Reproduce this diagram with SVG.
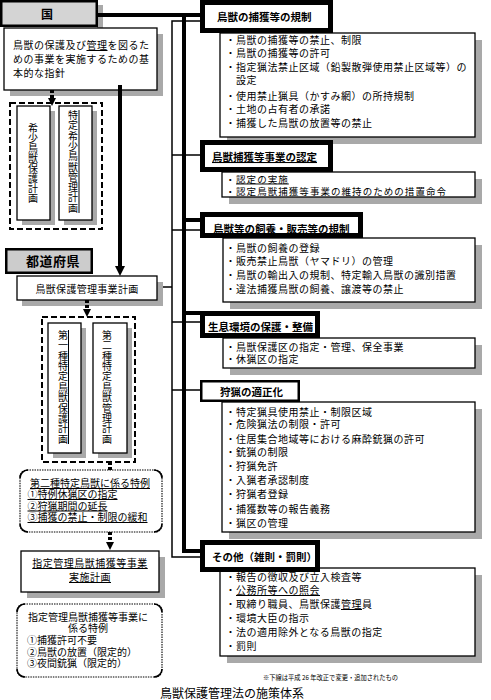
<svg xmlns="http://www.w3.org/2000/svg" width="491" height="700" viewBox="0 0 491 700">
<defs>
<style>
.t{font-family:"Noto Sans CJK JP","Noto Sans CJK SC",sans-serif;font-size:10px;letter-spacing:0.5px;fill:#000}
.h{font-size:10.5px;letter-spacing:0;font-weight:bold}
.b{font-weight:bold}
.u{text-decoration:underline}
.box{fill:#fff;stroke:#000;stroke-width:1.3}
.sh{fill:#a9a9a9}
.hdr{fill:#fff;stroke:#000;stroke-width:5}
.thin{fill:none;stroke:#000;stroke-width:1.5}
.thick{fill:none;stroke:#000;stroke-width:4}
.dots{fill:none;stroke:#000;stroke-width:4;stroke-dasharray:3 2}
.dash{fill:none;stroke:#000;stroke-width:2;stroke-dasharray:6 3}
.rnd{fill:#fff;stroke:#000;stroke-width:1.1;stroke-dasharray:1.5 1}
.crn{fill:none;stroke:#000;stroke-width:1.6}
.vt{font-size:10px;letter-spacing:0;text-anchor:middle}
.sm{font-size:10px;letter-spacing:0}
</style>
<marker id="ah" viewBox="0 0 10 10" refX="0" refY="5" markerWidth="10" markerHeight="10" markerUnits="userSpaceOnUse" orient="auto"><path d="M0 0 L10 5 L0 10 Z" fill="#000"/></marker>
<marker id="ahs" viewBox="0 0 10 10" refX="0" refY="5" markerWidth="8" markerHeight="8" markerUnits="userSpaceOnUse" orient="auto"><path d="M0 0 L10 5 L0 10 Z" fill="#000"/></marker>
</defs>
<rect width="491" height="700" fill="#fff"/>

<g id="kuni">
<rect class="sh" x="97" y="5" width="6" height="25"/>
<rect x="1.25" y="1.25" width="95.5" height="24.5" fill="#d4d4d4" stroke="#000" stroke-width="2.5"/>
<text class="t b" x="47" y="18.5" text-anchor="middle" style="font-size:12px;letter-spacing:0">国</text>
</g>

<g id="kihon-shishin">
<rect class="sh" x="10" y="34" width="153" height="62"/>
<rect class="box" x="4" y="28" width="153" height="62"/>
<text class="t" x="13" y="49">鳥獣の保護及び<tspan class="u">管理</tspan>を図るた</text>
<text class="t" x="13" y="63">めの事業を実施するための基</text>
<text class="t" x="13" y="77">本的な指針</text>
</g>

<g id="kishou-keikaku">
<rect class="dash" x="10" y="103" width="92" height="126"/>
<rect class="sh" x="22" y="111" width="33" height="114"/>
<rect class="box" x="17" y="106" width="33" height="114"/>
<text class="t vt" x="33 33 33 33 33 33 33 33" y="132 142 152 162 172 182 192 202">希少鳥獣保護計画</text>
<rect class="sh" x="64" y="111" width="33" height="114"/>
<rect class="box" x="59" y="106" width="33" height="114"/>
<text class="t vt" x="73 73 73 73 73 73 73 73 73 73" y="119 129.3 139.6 149.9 160.2 170.5 180.8 191.1 201.4 211.7">特定希少鳥獣管理計画</text>
<line x1="79" y1="110" x2="79" y2="213" stroke="#000" stroke-width="1"/>
</g>

<g id="todoufuken">
<rect x="6.25" y="249.25" width="85.5" height="23.5" fill="#cccccc" stroke="#000" stroke-width="2.5"/>
<text class="t b" x="53" y="266" text-anchor="middle" style="font-size:13px;letter-spacing:0.5px">都道府県</text>
</g>

<g id="jigyou-keikaku">
<rect class="sh" x="22" y="282" width="141" height="24"/>
<rect class="box" x="17" y="276" width="140" height="24"/>
<text class="t" x="87" y="292.5" text-anchor="middle" style="letter-spacing:0.3px">鳥獣保護管理事業計画</text>
</g>

<g id="tokutei-keikaku">
<rect class="dash" x="42" y="317" width="93" height="145"/>
<rect class="sh" x="53" y="328" width="33" height="130"/>
<rect class="box" x="48" y="323" width="33" height="130"/>
<text class="t vt" x="63 63 63 63 63 63 63 63 63 63 63" y="339 349.4 359.7 370.1 380.4 390.8 401.2 411.5 421.9 432.2 442.6">第一種特定鳥獣保護計画</text>
<line x1="68.5" y1="330" x2="68.5" y2="444" stroke="#000" stroke-width="1"/>
<rect class="sh" x="98" y="328" width="34" height="130"/>
<rect class="box" x="93" y="323" width="34" height="130"/>
<text class="t vt" x="107 107 107 107 107 107 107 107 107 107 107" y="339 349.4 359.7 370.1 380.4 390.8 401.2 411.5 421.9 432.2 442.6">第二種特定鳥獣管理計画</text>
</g>

<g id="tokurei-2shu">
<rect class="rnd" x="20" y="470" width="142" height="62" rx="7"/>
<path class="crn" d="M20 478 A8 8 0 0 1 28 470 M154 470 A8 8 0 0 1 162 478 M162 524 A8 8 0 0 1 154 532 M28 532 A8 8 0 0 1 20 524"/>
<g class="t sm">
<text x="90" y="487" text-anchor="middle" class="u">第二種特定鳥獣に係る特例</text>
<text x="27.5" y="498" class="u">①特例休猟区の指定</text>
<text x="27.5" y="509.5" class="u">②狩猟期間の延長</text>
<text x="27.5" y="521" class="u">③捕獲の禁止・制限の緩和</text>
</g>
</g>

<g id="shitei-jisshi-keikaku">
<rect class="sh" x="27" y="557" width="138" height="41"/>
<rect class="box" x="21" y="551" width="138" height="41"/>
<text class="t u" x="90" y="567" text-anchor="middle">指定管理鳥獣捕獲等事業</text>
<text class="t u" x="90" y="581" text-anchor="middle">実施計画</text>
</g>

<g id="tokurei-shitei">
<rect class="rnd" x="17" y="604" width="145" height="73" rx="7"/>
<path class="crn" d="M17 612 A8 8 0 0 1 25 604 M154 604 A8 8 0 0 1 162 612 M162 669 A8 8 0 0 1 154 677 M25 677 A8 8 0 0 1 17 669"/>
<g class="t sm">
<text x="88" y="620.5" text-anchor="middle">指定管理鳥獣捕獲等事業に</text>
<text x="88" y="632" text-anchor="middle">係る特例</text>
<text x="27" y="643.5">①捕獲許可不要</text>
<text x="27" y="655.5">②鳥獣の放置（限定的）</text>
<text x="27" y="667">③夜間銃猟（限定的）</text>
</g>
</g>

<g id="connectors">
<path class="thick" d="M97 15 H200 M184 15 V551 H200 M184 220 H200 M184 313 H200"/>
<path class="thin" d="M200 21 H172 V557 H200 M172 155 H200 M172 230 H200 M172 322 H200 M172 390 H200 M163 287 H172"/>
<path class="thick" d="M120 85 V266" marker-end="url(#ah)"/>
<path class="dots" d="M52 90 V98" marker-end="url(#ahs)"/>
<path class="dots" d="M87 300 V309" marker-end="url(#ahs)"/>
<path class="dots" d="M110 462 V470"/>
<path class="dots" d="M110 532 V542" marker-end="url(#ahs)"/>
</g>

<g id="hokaku-kisei">
<rect class="sh" x="227" y="40" width="255" height="104"/>
<rect class="box" x="220" y="33" width="255" height="104"/>
<rect class="hdr" x="202.5" y="2.5" width="128" height="28"/>
<text class="t h" x="217" y="21">鳥獣の捕獲等の規制</text>
<text class="t" x="225.5" y="44">・鳥獣の捕獲等の禁止、制限</text>
<text class="t" x="225.5" y="57">・鳥獣の捕獲等の許可</text>
<text class="t" x="225.5" y="70.5">・指定猟法禁止区域（鉛製散弾使用禁止区域等）の</text>
<text class="t" x="236" y="84">設定</text>
<text class="t" x="225.5" y="99.5">・使用禁止猟具（かすみ網）の所持規制</text>
<text class="t" x="225.5" y="112.5">・土地の占有者の承諾</text>
<text class="t" x="225.5" y="127">・捕獲した鳥獣の放置等の禁止</text>
</g>

<g id="jigyou-nintei">
<rect class="sh" x="229" y="179" width="253" height="25"/>
<rect class="box" x="222" y="172" width="253" height="25"/>
<rect class="hdr" x="202.5" y="142.5" width="128" height="27"/>
<text class="t h u" x="212" y="161">鳥獣捕獲等事業の認定</text>
<text class="t" x="225.5" y="182.5" style="font-size:9.5px;letter-spacing:1.05px">・<tspan class="u">認定の実施</tspan></text>
<text class="t" x="225.5" y="194.5" style="font-size:9.5px;letter-spacing:1.05px">・認定鳥獣捕獲等事業の維持のための措置命令</text>
</g>

<g id="shiyou-hanbai">
<rect class="sh" x="230" y="245" width="252" height="64"/>
<rect class="box" x="223" y="238" width="252" height="64"/>
<rect class="hdr" x="202.5" y="214.5" width="158" height="21"/>
<text class="t h" x="213" y="233">鳥獣等の飼養・販売等の規制</text>
<text class="t" x="225.5" y="252">・鳥獣の飼養の登録</text>
<text class="t" x="225.5" y="265">・販売禁止鳥獣（ヤマドリ）の管理</text>
<text class="t" x="225.5" y="279">・鳥獣の輸出入の規制、特定輸入鳥獣の識別措置</text>
<text class="t" x="225.5" y="293">・違法捕獲鳥獣の飼養、譲渡等の禁止</text>
</g>

<g id="seisoku-kankyou">
<rect class="sh" x="230" y="345" width="252" height="30"/>
<rect class="box" x="223" y="338" width="252" height="30"/>
<rect class="hdr" x="202.5" y="313.5" width="115" height="22"/>
<text class="t h" x="208" y="331">生息環境の保護・整備</text>
<text class="t" x="225.5" y="351">・鳥獣保護区の指定・管理、保全事業</text>
<text class="t" x="225.5" y="363">・休猟区の指定</text>
</g>

<g id="shuryou-tekiseika">
<rect class="sh" x="229" y="409" width="253" height="130"/>
<rect class="box" x="222" y="402" width="253" height="130"/>
<rect x="201.25" y="381.25" width="97.5" height="19.5" fill="#fff" stroke="#000" stroke-width="2.5"/>
<text class="t h" x="220" y="396">狩猟の適正化</text>
<text class="t" x="225.5" y="416">・特定猟具使用禁止・制限区域</text>
<text class="t" x="225.5" y="427.5">・危険猟法の制限・許可</text>
<text class="t" x="225.5" y="442.5">・住居集合地域等における麻酔銃猟の許可</text>
<text class="t" x="225.5" y="456">・銃猟の制限</text>
<text class="t" x="225.5" y="470">・狩猟免許</text>
<text class="t" x="225.5" y="484">・入猟者承認制度</text>
<text class="t" x="225.5" y="498">・狩猟者登録</text>
<text class="t" x="225.5" y="512.5">・捕獲数等の報告義務</text>
<text class="t" x="225.5" y="527">・猟区の管理</text>
</g>

<g id="sonota">
<rect class="sh" x="227" y="575" width="255" height="88"/>
<rect class="box" x="220" y="568" width="255" height="88"/>
<rect class="hdr" x="202.5" y="542.5" width="115" height="27"/>
<text class="t h" x="212" y="561">その他（雑則・罰則）</text>
<text class="t" x="225.5" y="581">・報告の徴収及び立入検査等</text>
<text class="t" x="225.5" y="594">・<tspan class="u">公務所等への照会</tspan></text>
<text class="t" x="225.5" y="608">・取締り職員、鳥獣保護<tspan class="u">管理</tspan>員</text>
<text class="t" x="225.5" y="622">・環境大臣の指示</text>
<text class="t" x="225.5" y="636">・法の適用除外となる鳥獣の指定</text>
<text class="t" x="225.5" y="650">・罰則</text>
</g>

<text class="t" x="263" y="680" style="font-size:6.8px;letter-spacing:0" textLength="135" lengthAdjust="spacingAndGlyphs">※下線は平成 26 年改正で変更・追加されたもの</text>
<text class="t" x="160" y="698" style="font-size:12px;letter-spacing:0">鳥獣保護管理法の施策体系</text>
</svg>
